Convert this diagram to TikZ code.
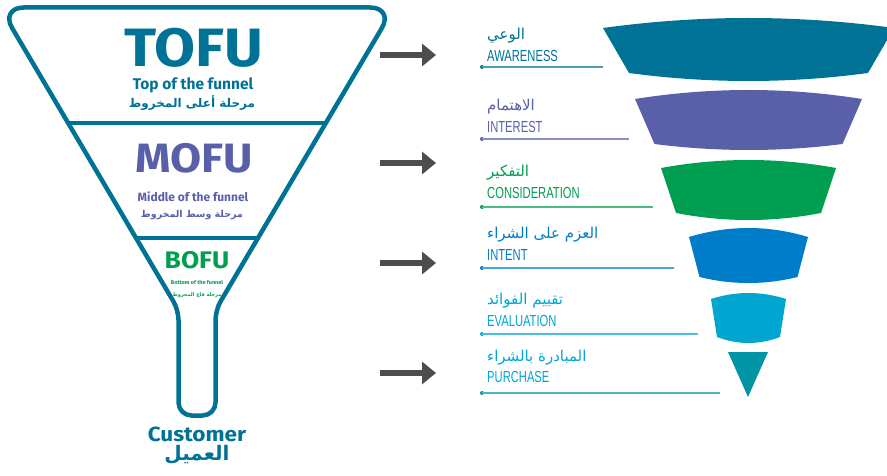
\documentclass[tikz,border=0pt]{standalone}
\usepackage{fontspec}
\usetikzlibrary{arrows.meta}
\TeXXeTstate=1
\newfontfamily\fira{Fira Sans}
\newfontfamily\firaw[FakeStretch=1.1]{Fira Sans}
\newfontfamily\arab[Script=Arabic]{DejaVu Sans}
\newfontfamily\cond[FakeStretch=0.7]{Liberation Sans}
\definecolor{cTeal}{RGB}{0,114,150}
\definecolor{cPurple}{RGB}{90,95,170}
\definecolor{cGreen}{RGB}{0,158,80}
\definecolor{cBlue}{RGB}{0,125,200}
\definecolor{cLight}{RGB}{0,166,208}
\definecolor{cTeal2}{RGB}{0,148,165}
\definecolor{cArrow}{RGB}{77,77,77}
\newcommand\funnelband[8]{%
\fill[#1] ({#2-#3},#4) .. controls ({#2-#3/3},{#4-4*#5/3}) and ({#2+#3/3},{#4-4*#5/3}) .. ({#2+#3},#4)
 -- ({#2+#6},#7) .. controls ({#2+#6/3},{#7+4*#8/3}) and ({#2-#6/3},{#7+4*#8/3}) .. ({#2-#6},#7) -- cycle;}
\tikzset{
 funnelline/.style={draw=cTeal, line width=4.5pt, line join=round},
 ftxt/.style={inner sep=0pt, anchor=base},
 bigarrow/.style={draw=cArrow, line width=6pt, -{Triangle[length=14pt,width=22pt]}},
 arlab/.style={inner sep=0pt, anchor=base west, font=\arab\fontsize{15}{18}\selectfont},
 enlab/.style={inner sep=0pt, anchor=base west, font=\cond\fontsize{16}{18}\selectfont},
 uline/.style={line width=1.5pt},
}
\begin{document}
\begin{tikzpicture}[x=1pt,y=-1pt]
\useasboundingbox (0,0) rectangle (887,476);
% funnel outline
\draw[funnelline] (197,7.5) [rounded corners=24pt] -- (394,7.5) [rounded corners=10pt] -- (215.5,310) [rounded corners=13pt] -- (215.5,415.5) -- (178.5,415.5) [rounded corners=10pt] -- (178.5,310) [rounded corners=24pt] -- (0,7.5) -- cycle;
\coordinate (d1l) at (68.2,123); \coordinate (d1r) at (325.8,123);
\coordinate (d2l) at (136,238); \coordinate (d2r) at (258,238);
\draw[funnelline] (d1l) -- (d1r);
\draw[funnelline] (d2l) -- (d2r);
% funnel texts
\node[ftxt, text=cTeal, font=\firaw\bfseries\fontsize{54}{56}\selectfont] (tofu) at (194,67) {TOFU};
\node[ftxt, text=cTeal, font=\fira\bfseries\fontsize{15.5}{17}\selectfont] (tofuen) at (193,90) {Top of the funnel};
\node[ftxt, text=cTeal, font=\arab\bfseries\fontsize{12}{14}\selectfont] (tofuar) at (192,108) {\beginR مرحلة أعلى المخروط\endR};
\node[ftxt, text=cPurple, font=\firaw\bfseries\fontsize{41}{45}\selectfont] (mofu) at (194,173) {MOFU};
\node[ftxt, text=cPurple, font=\fira\bfseries\fontsize{12}{14}\selectfont] (mofuen) at (193,201) {Middle of the funnel};
\node[ftxt, text=cPurple, font=\arab\bfseries\fontsize{9.5}{12}\selectfont] (mofuar) at (192,218) {\beginR مرحلة وسط المخروط\endR};
\node[ftxt, text=cGreen, font=\firaw\bfseries\fontsize{24}{26}\selectfont] (bofu) at (197,268) {BOFU};
\node[ftxt, text=cGreen, font=\fira\bfseries\fontsize{5.5}{7}\selectfont] (bofuen) at (197,284) {Bottom of the funnel};
\node[ftxt, text=cGreen, font=\arab\bfseries\fontsize{5}{7}\selectfont] (bofuar) at (197,296) {\beginR مرحلة قاع المخروط\endR};
\node[ftxt, text=cTeal, font=\firaw\bfseries\fontsize{20.5}{22}\selectfont] (cust) at (197,441) {Customer};
\node[ftxt, text=cTeal, font=\arab\bfseries\fontsize{20}{22}\selectfont] (custar) at (197,460) {\beginR العميل\endR};
% arrows
\foreach \i/\y in {1/55,2/163,3/263,4/373}{
 \coordinate (as\i) at (380,\y); \coordinate (ae\i) at (436,\y);
 \draw[bigarrow] (as\i) -- (ae\i);
}
% right funnel bands
\funnelband{cTeal}{748.5}{145.5}{28}{10}{119.5}{73}{8}
\funnelband{cPurple}{748.5}{113.5}{99}{9}{94}{144}{6}
\funnelband{cGreen}{748.5}{87.5}{168}{8}{72.5}{213}{7}
\funnelband{cBlue}{748.5}{59.5}{237}{9}{49}{277}{6}
\funnelband{cLight}{748.5}{37.5}{299}{6}{31.5}{337}{6}
\fill[cTeal2] (728,352) -- (768,352) -- (748,397) -- cycle;
% labels
\node[arlab, text=cTeal] (ar1) at (487,40) {\beginR الوعي\endR};
\node[enlab, text=cTeal] (en1) at (487,61.7) {AWARENESS};
\node[arlab, text=cPurple] (ar2) at (487,111) {\beginR الاهتمام\endR};
\node[enlab, text=cPurple] (en2) at (487,133) {INTEREST};
\node[arlab, text=cGreen] (ar3) at (487,177) {\beginR التفكير\endR};
\node[enlab, text=cGreen] (en3) at (487,199) {CONSIDERATION};
\node[arlab, text=cBlue] (ar4) at (487,239) {\beginR العزم على الشراء\endR};
\node[enlab, text=cBlue] (en4) at (487,261) {INTENT};
\node[arlab, text=cLight] (ar5) at (487,304) {\beginR تقييم الفوائد\endR};
\node[enlab, text=cLight] (en5) at (487,326) {EVALUATION};
\node[arlab, text=cLight] (ar6) at (487,361) {\beginR المبادرة بالشراء\endR};
\node[enlab, text=cLight] (en6) at (487,382) {PURCHASE};
% underlines
\foreach \i/\y/\e/\c in {1/67/603/cTeal,2/139/629/cPurple,3/207/653/cGreen,4/268/674/cBlue,5/334/698/cLight,6/393/720/cTeal2}{
 \coordinate (ls\i) at (482,\y); \coordinate (le\i) at (\e,\y);
 \fill[\c] (ls\i) circle (2);
 \draw[uline, draw=\c!70] (ls\i) -- (le\i);
}
\end{tikzpicture}
\end{document}
